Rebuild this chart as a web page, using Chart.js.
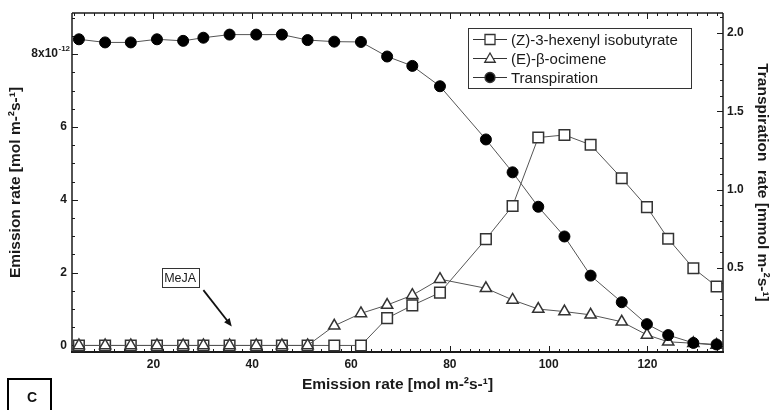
<!DOCTYPE html>
<html>
<head>
<meta charset="utf-8">
<title>Emission and transpiration rates</title>
<script src="https://cdn.jsdelivr.net/npm/chart.js@4.4.1/dist/chart.umd.min.js"></script>
<style>
  html, body { margin: 0; padding: 0; background: #fff; }
  #wrap { position: relative; width: 773px; height: 410px; }
</style>
</head>
<body>
<div id="wrap"><canvas id="emissionChart"></canvas></div>
<script>
/* ============================================================
   Emission rate of two volatiles (left axis, x10^-12)
   and transpiration rate (right axis) against emission rate.
   ============================================================ */

// ---- data ----
const emissionX     = [4.9, 10.2, 15.4, 20.7, 26.0, 30.1, 35.4, 40.8, 46.0, 51.2, 56.6, 62.0, 67.3,
                       72.4, 78.0, 87.3, 92.7, 97.9, 103.2, 108.5, 114.8, 119.9, 124.2, 129.3, 134.0];
const isobutyrate   = [0, 0, 0, 0, 0, 0, 0, 0, 0, 0, 0, 0, 0.75,
                       1.10, 1.45, 2.92, 3.83, 5.71, 5.78, 5.51, 4.59, 3.80, 2.93, 2.12, 1.62];
const ocimene       = [0, 0, 0, 0, 0, 0, 0, 0, 0, 0, 0.54, 0.88, 1.11,
                       1.38, 1.82, 1.57, 1.25, 1.00, 0.93, 0.84, 0.65, 0.29, 0.10, 0.06, 0.01];
const transpiration = [1.96, 1.94, 1.94, 1.96, 1.95, 1.97, 1.99, 1.99, 1.99, 1.955, 1.945, 1.943, 1.85,
                       1.79, 1.66, 1.32, 1.11, 0.89, 0.70, 0.45, 0.28, 0.14, 0.07, 0.02, 0.01];

const seriesNames     = ['(Z)-3-hexenyl isobutyrate', '(E)-β-ocimene', 'Transpiration'];
const xTickValues     = [20, 40, 60, 80, 100, 120];
const leftTickValues  = [0, 2, 4, 6];
const leftTickLabels  = ['0', '2', '4', '6'];
const leftTopTick     = { value: 8, base: '8x10', exponent: '-12' };  // drawn with a raised exponent
const rightTickValues = [0.5, 1.0, 1.5, 2.0];
const rightTickLabels = ['0.5', '1.0', '1.5', '2.0'];

// MeJA label and the arrow pointing at the treatment time (data units, left axis)
const mejaLabel = { x: 25.4, y: 1.86 };
const mejaArrow = { x0: 30.1, y0: 1.52, x1: 35.85, y1: 0.52 };

// axis ranges
const X_MIN = 3.5,    X_MAX = 135.3;
const Y_MIN = -0.18,  Y_MAX = 9.13;
const Y2_MIN = -0.038, Y2_MAX = 2.128;

const INK = '#1a1a1a';
const FONT = "'Liberation Sans', Arial, Helvetica, sans-serif";

Chart.defaults.font.family = FONT;
Chart.defaults.color = INK;

const toPoints = ys => ys.map((y, i) => ({ x: emissionX[i], y: y }));


/* ---- frame with inward ticks on all four sides ---- */
const frameTicks = {
  id: 'frameTicks',
  beforeDatasetsDraw(chart) {
    const { ctx, chartArea: a, scales } = chart;
    const seg = (x0, y0, x1, y1) => { ctx.beginPath(); ctx.moveTo(x0, y0); ctx.lineTo(x1, y1); ctx.stroke(); };
    ctx.save();
    ctx.strokeStyle = INK;
    ctx.lineWidth = 1;

    // x ticks, every 2 with majors at 20
    for (let i = 2; i * 2 <= X_MAX; i++) {
      const v = i * 2;
      if (v < X_MIN) continue;
      const px = Math.round(scales.x.getPixelForValue(v)) + 0.5;
      const len = v % 20 === 0 ? 6 : 3;
      seg(px, a.bottom, px, a.bottom - len);
      seg(px, a.top, px, a.top + len);
    }
    // left ticks, every 0.5 with majors at 2
    for (let k = 0; k * 0.5 <= Y_MAX; k++) {
      const py = Math.round(scales.y.getPixelForValue(k * 0.5)) + 0.5;
      seg(a.left, py, a.left + (k % 4 === 0 ? 6 : 3), py);
    }
    // right ticks, every 0.1 with majors at 0.5
    for (let k = 0; k / 10 <= Y2_MAX; k++) {
      const py = Math.round(scales.y2.getPixelForValue(k / 10)) + 0.5;
      seg(a.right, py, a.right - (k % 5 === 0 ? 6 : 3), py);
    }

    // frame
    ctx.lineWidth = 1.5;
    seg(a.left, a.top, a.right, a.top);
    seg(a.left, a.top, a.left, a.bottom);
    seg(a.right, a.top, a.right, a.bottom);
    ctx.lineWidth = 2;
    seg(a.left - 1, a.bottom, a.right + 1, a.bottom);
    ctx.restore();
  }
};


/* ---- marker drawing used by the legend ---- */
function marker(ctx, style, x, y, r) {
  ctx.beginPath();
  if (style === 'rect') {
    ctx.rect(x - r, y - r, 2 * r, 2 * r);
  } else if (style === 'triangle') {
    ctx.moveTo(x, y - r * 1.1);
    ctx.lineTo(x + r * 1.05, y + r * 0.75);
    ctx.lineTo(x - r * 1.05, y + r * 0.75);
    ctx.closePath();
  } else {
    ctx.arc(x, y, r, 0, Math.PI * 2);
  }
  ctx.fill();
  ctx.stroke();
}


/* ---- legend box, MeJA note, top left tick label and panel letter ---- */
const extras = {
  id: 'extras',
  afterDraw(chart) {
    const { ctx, scales } = chart;
    ctx.save();

    // top tick on the left axis: 8x10 with a raised -12
    const ty = scales.y.getPixelForValue(leftTopTick.value);
    ctx.fillStyle = INK;
    ctx.textBaseline = 'middle';
    ctx.textAlign = 'right';
    ctx.font = 'bold 12px ' + FONT;
    ctx.fillText(leftTopTick.base, 58, ty);
    ctx.textAlign = 'left';
    ctx.font = 'bold 8px ' + FONT;
    ctx.fillText(leftTopTick.exponent, 58.5, ty - 5);

    // legend
    const lx = 468, ly = 28, lw = 223, lh = 60;
    ctx.fillStyle = '#fff';
    ctx.fillRect(lx, ly, lw, lh);
    ctx.strokeStyle = '#333';
    ctx.lineWidth = 1;
    ctx.strokeRect(lx + 0.5, ly + 0.5, lw, lh);

    const rows = [39.5, 58.5, 77.5];
    const styles = [
      { pt: 'rect',     r: 5,   fill: '#fff' },
      { pt: 'triangle', r: 5,   fill: '#fff' },
      { pt: 'circle',   r: 5,   fill: '#000' }
    ];
    ctx.font = '15px ' + FONT;
    ctx.textBaseline = 'middle';
    seriesNames.forEach((name, i) => {
      const y = rows[i];
      ctx.strokeStyle = '#333';
      ctx.lineWidth = 1;
      ctx.beginPath(); ctx.moveTo(473, y); ctx.lineTo(507, y); ctx.stroke();
      ctx.fillStyle = styles[i].fill;
      ctx.lineWidth = 1.3;
      marker(ctx, styles[i].pt, 490, y, styles[i].r);
      ctx.fillStyle = INK;
      ctx.fillText(name, 511, y + 1);
    });

    // MeJA label
    const mx = scales.x.getPixelForValue(mejaLabel.x);
    const my = scales.y.getPixelForValue(mejaLabel.y);
    ctx.strokeStyle = '#333';
    ctx.lineWidth = 1;
    ctx.strokeRect(Math.round(mx - 18.5) + 0.5, Math.round(my - 9.5) + 0.5, 37, 19);
    ctx.fillStyle = INK;
    ctx.font = '12.5px ' + FONT;
    ctx.textAlign = 'center';
    ctx.fillText('MeJA', mx, my + 1);

    // arrow
    const ax0 = scales.x.getPixelForValue(mejaArrow.x0), ay0 = scales.y.getPixelForValue(mejaArrow.y0);
    const ax1 = scales.x.getPixelForValue(mejaArrow.x1), ay1 = scales.y.getPixelForValue(mejaArrow.y1);
    const ang = Math.atan2(ay1 - ay0, ax1 - ax0);
    ctx.strokeStyle = '#111';
    ctx.lineWidth = 1.8;
    ctx.beginPath(); ctx.moveTo(ax0, ay0); ctx.lineTo(ax1 - 5 * Math.cos(ang), ay1 - 5 * Math.sin(ang)); ctx.stroke();
    ctx.fillStyle = '#111';
    ctx.beginPath();
    ctx.moveTo(ax1, ay1);
    ctx.lineTo(ax1 - 8 * Math.cos(ang) + 3.5 * Math.sin(ang), ay1 - 8 * Math.sin(ang) - 3.5 * Math.cos(ang));
    ctx.lineTo(ax1 - 8 * Math.cos(ang) - 3.5 * Math.sin(ang), ay1 - 8 * Math.sin(ang) + 3.5 * Math.cos(ang));
    ctx.closePath();
    ctx.fill();

    // panel letter
    ctx.strokeStyle = '#000';
    ctx.lineWidth = 2;
    ctx.strokeRect(8, 379, 43, 40);
    ctx.font = 'bold 14px ' + FONT;
    ctx.fillStyle = '#111';
    ctx.fillText('C', 32, 398);

    ctx.restore();
  }
};


/* ---- chart ---- */
const lineBase = {
  borderColor: '#555',
  borderWidth: 1,
  pointBorderColor: '#333',
  pointBorderWidth: 1.5,
  pointHoverRadius: 0,
  tension: 0,
  clip: false
};

new Chart(document.getElementById('emissionChart'), {
  type: 'line',
  data: {
    datasets: [
      {
        ...lineBase,
        label: seriesNames[0],
        data: toPoints(isobutyrate),
        pointStyle: 'rect',
        pointRadius: 7.5,
        pointBackgroundColor: '#fff',
        yAxisID: 'y',
        order: 2
      },
      {
        ...lineBase,
        label: seriesNames[1],
        data: toPoints(ocimene),
        pointStyle: 'triangle',
        pointRadius: 6.5,
        pointBackgroundColor: '#fff',
        yAxisID: 'y',
        order: 1
      },
      {
        ...lineBase,
        label: seriesNames[2],
        data: toPoints(transpiration),
        pointStyle: 'circle',
        pointRadius: 5.5,
        pointBackgroundColor: '#000',
        pointBorderColor: '#000',
        pointBorderWidth: 1,
        yAxisID: 'y2',
        order: 0
      }
    ]
  },
  options: {
    responsive: true,
    maintainAspectRatio: false,
    animation: false,
    events: [],
    layout: { padding: { top: 13, left: 0, right: 0, bottom: 0 } },
    plugins: {
      legend: { display: false },
      tooltip: { enabled: false }
    },
    scales: {
      x: {
        type: 'linear',
        position: 'bottom',
        min: X_MIN,
        max: X_MAX,
        grid: { display: false, drawTicks: false },
        border: { display: false },
        ticks: {
          stepSize: 20,
          includeBounds: false,
          padding: 5,
          color: INK,
          font: { size: 12, weight: 'bold' },
          callback: v => xTickValues.includes(v) ? String(v) : ''
        },
        title: {
          display: true,
          text: 'Emission rate [mol m-²s-¹]',
          color: INK,
          font: { size: 15.5, weight: 'bold' },
          padding: { top: 0, bottom: 16 }
        },
        afterFit: s => { s.height = 58; }
      },
      y: {
        position: 'left',
        min: Y_MIN,
        max: Y_MAX,
        grid: { display: false, drawTicks: false },
        border: { display: false },
        ticks: {
          stepSize: 2,
          includeBounds: false,
          padding: 5,
          color: INK,
          font: { size: 12, weight: 'bold' },
          callback: v => {
            const i = leftTickValues.indexOf(v);
            return i >= 0 ? leftTickLabels[i] : '';
          }
        },
        title: {
          display: true,
          text: 'Emission rate [mol m-²s-¹]',
          color: INK,
          font: { size: 15.5, weight: 'bold' },
          padding: { top: 6, bottom: 0 }
        },
        afterFit: s => { s.width = 72; }
      },
      y2: {
        position: 'right',
        min: Y2_MIN,
        max: Y2_MAX,
        grid: { display: false, drawTicks: false },
        border: { display: false },
        ticks: {
          stepSize: 0.5,
          includeBounds: false,
          padding: 4,
          color: INK,
          font: { size: 12, weight: 'bold' },
          callback: v => {
            const i = rightTickValues.indexOf(v);
            return i >= 0 ? rightTickLabels[i] : '';
          }
        },
        title: {
          display: true,
          text: 'Transpiration  rate [mmol m-²s-¹]',
          color: INK,
          font: { size: 15.5, weight: 'bold' },
          padding: { top: 1, bottom: 0 }
        },
        afterFit: s => { s.width = 50; }
      }
    }
  },
  plugins: [frameTicks, extras]
});
</script>
</body>
</html>
